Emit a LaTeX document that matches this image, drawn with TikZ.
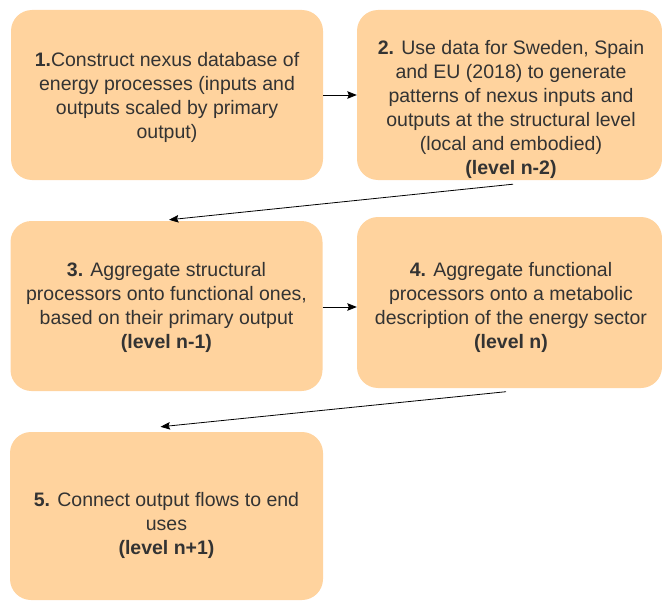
\documentclass[tikz,border=0pt]{standalone}
\usepackage{fontspec}
\setmainfont{Liberation Sans}
\usetikzlibrary{arrows.meta,calc}
\definecolor{boxfill}{RGB}{255,211,158}
\definecolor{txtgray}{RGB}{51,51,51}
\begin{document}
\begin{tikzpicture}[x=1pt,y=-1pt,
  stepbox/.style={draw=none,fill=boxfill,rounded corners=21pt,inner sep=0pt},
  steptext/.style={align=center,text=txtgray,inner sep=0pt,
    font=\fontsize{19.5}{24}\selectfont},
  flow/.style={draw=black,line width=0.8pt,-{Stealth[length=9.5pt,width=7.5pt,inset=1.5pt]}}]
\useasboundingbox (0,0) rectangle (662,602);

% rounded process boxes
\node[stepbox,minimum width=312pt,minimum height=170pt] (b1) at (167,95) {};
\node[stepbox,minimum width=305pt,minimum height=170pt] (b2) at (509.5,95) {};
\node[stepbox,minimum width=312pt,minimum height=170pt] (b3) at (166.5,306) {};
\node[stepbox,minimum width=305pt,minimum height=171pt] (b4) at (509.5,302.5) {};
\node[stepbox,minimum width=313pt,minimum height=168pt] (b5) at (166.5,516) {};

% box texts
\node[steptext] (t1) at (167,97) {\textbf{1.}Construct nexus database of\\energy processes (inputs and\\outputs scaled by primary\\output)};
\node[steptext] (t2) at (511,109) {\textbf{2.} Use data for Sweden, Spain\\and EU (2018) to generate\\patterns of nexus inputs and\\outputs at the structural level\\(local and embodied)\\\textbf{(level n-2)}};
\node[steptext] (t3) at (166.5,307) {\textbf{3.} Aggregate structural\\processors onto functional ones,\\based on their primary output\\\textbf{(level n-1)}};
\node[steptext] (t4) at (511,307) {\textbf{4.} Aggregate functional\\processors onto a metabolic\\description of the energy sector\\\textbf{(level n)}};
\node[steptext] (t5) at (166.5,525) {\textbf{5.} Connect output flows to end\\uses\\\textbf{(level n+1)}};

% connectors
\coordinate (s23) at ($(b2.south)+(3.5,4)$);
\coordinate (e23) at ($(b3.north)+(2.5,-1)$);
\coordinate (s45) at ($(b4.south)+(-3.5,3.5)$);
\coordinate (e45) at ($(b5.north)+(-6,-5)$);
\draw[flow] (b1.east) -- (b2.west);
\draw[flow] (s23) -- (e23);
\draw[flow] (b3.east |- 0,307) -- (b4.west |- 0,307);
\draw[flow] (s45) -- (e45);
\end{tikzpicture}
\end{document}
